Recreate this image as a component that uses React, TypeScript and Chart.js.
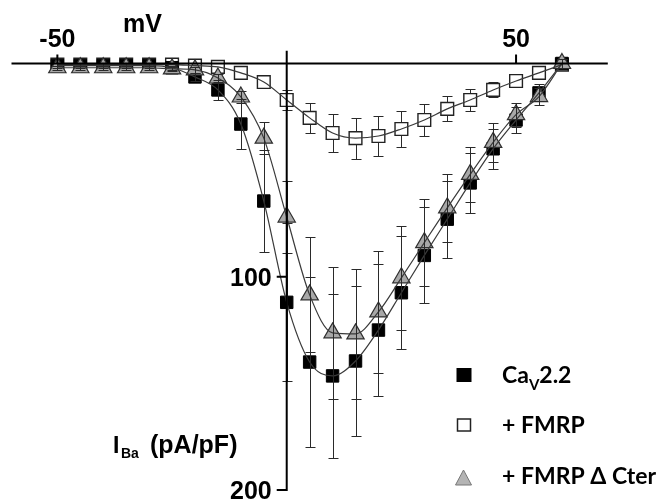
import React, { useEffect, useRef } from 'react';
import { Chart, registerables } from 'chart.js';

Chart.register(...registerables);

// Test potentials (mV)
const voltages = [-50, -45, -40, -35, -30, -25, -20, -15, -10, -5, 0, 5, 10, 15, 20, 25, 30, 35, 40, 45, 50, 55, 60];
// Current density (pA/pF), plotted downward
const cav22 = [1, 1, 1, 1, 1, 2, 6.3, 12.4, 28.4, 64.5, 112, 140, 146.5, 139.5, 125, 107.5, 90, 73, 56, 40, 26.5, 13.8, 0];
const cav22Err = [1, 1, 1, 1, 1, 1, 2, 4.7, 11.7, 24, 37, 40, 38.5, 35, 31, 26.5, 22.5, 18, 14, 9.5, 6, 4, 2];
const fmrp = [0.5, 0.5, 0.5, 0.5, 0.5, 0.5, 1, 1.6, 4.4, 8.7, 17.1, 25.5, 32.6, 35, 34, 30.7, 26.5, 21.3, 17.1, 12.4, 8.2, 4.4, 0.5];
const fmrpErr = [1, 1, 1, 1, 1, 1, 1, 1.5, 2, 3, 4.7, 7, 9, 9.6, 9.4, 8.4, 7.3, 5.9, 5, 3.5, 3, 3, 2];
const dCter = [2, 2, 2, 2, 2, 2.5, 3, 6.8, 15.7, 35, 72, 108.5, 126.3, 126.8, 116.5, 100.5, 84, 67.7, 52, 37, 24, 15.5, 0];
const dCterErr = [1, 1, 1, 1, 1, 1, 1.5, 2, 3, 7.5, 17, 27, 31, 30.5, 28.5, 24.5, 20.5, 16, 13, 9, 5.6, 4, 2];

const xTicks = [-50, 50];
const yTicks = [100, 200];
const xRange = [-60, 70];
const yRange = [-6, 200];

const TICK_FONT = 'bold 25px "Liberation Sans", Arial, sans-serif';
const LEGEND_FONT = '"Lato", "Open Sans", sans-serif';

const pts = (vals: number[]) => voltages.map((v, i) => ({ x: v, y: vals[i] }));

function drawRich(ctx: CanvasRenderingContext2D, parts: { t: string; font: string; dy: number }[], x: number, y: number) {
  let cx = x;
  for (const p of parts) {
    ctx.font = p.font;
    ctx.fillText(p.t, cx, y + p.dy);
    cx += ctx.measureText(p.t).width;
  }
}

const errorBarPlugin = {
  id: 'errorBars',
  _draw(chart: any, layer: string) {
    const { ctx, scales } = chart;
    const xs = scales.x, ys = scales.y;
    ctx.save();
    chart.data.datasets.forEach((ds: any) => {
      if (!ds.errors || ds.errLayer !== layer) return;
      ctx.strokeStyle = '#2a2a2a';
      ctx.lineWidth = 1;
      ds.data.forEach((p: any, i: number) => {
        const e = ds.errors[i];
        const px = Math.round(xs.getPixelForValue(p.x)) + 0.5;
        const t = Math.round(ys.getPixelForValue(p.y - e)) + 0.5;
        const b = Math.round(ys.getPixelForValue(p.y + e)) + 0.5;
        ctx.beginPath();
        ctx.moveTo(px, t); ctx.lineTo(px, b);
        ctx.moveTo(px - 5, t); ctx.lineTo(px + 5, t);
        ctx.moveTo(px - 5, b); ctx.lineTo(px + 5, b);
        ctx.stroke();
      });
    });
    ctx.restore();
  },
  beforeDatasetsDraw(chart: any) { (errorBarPlugin as any)._draw(chart, 'before'); },
  afterDatasetsDraw(chart: any) { (errorBarPlugin as any)._draw(chart, 'after'); },
};

const axesPlugin = {
  id: 'customAxes',
  afterDraw(chart: any) {
    const { ctx, scales } = chart;
    const xs = scales.x, ys = scales.y;
    const x0 = xs.getPixelForValue(0);
    const y0 = ys.getPixelForValue(0);
    ctx.save();
    ctx.strokeStyle = '#000';
    ctx.fillStyle = '#000';
    ctx.lineWidth = 2;
    ctx.beginPath();
    ctx.moveTo(xs.getPixelForValue(xRange[0]), y0);
    ctx.lineTo(xs.getPixelForValue(xRange[1]), y0);
    ctx.moveTo(x0, ys.getPixelForValue(yRange[0]));
    ctx.lineTo(x0, ys.getPixelForValue(yRange[1]) + 1);
    xTicks.forEach((t) => {
      const px = xs.getPixelForValue(t);
      ctx.moveTo(px, y0);
      ctx.lineTo(px, y0 - 9);
    });
    yTicks.forEach((t) => {
      const py = ys.getPixelForValue(t);
      ctx.moveTo(x0 + 1, py);
      ctx.lineTo(x0 - 10, py);
    });
    ctx.stroke();

    ctx.font = TICK_FONT;
    ctx.textBaseline = 'alphabetic';
    ctx.textAlign = 'center';
    xTicks.forEach((t) => {
      ctx.fillText(String(t), xs.getPixelForValue(t), y0 - 16);
    });
    ctx.textAlign = 'right';
    yTicks.forEach((t) => {
      ctx.fillText(String(t), x0 - 15, ys.getPixelForValue(t) + 9);
    });

    // axis titles
    ctx.textAlign = 'center';
    ctx.fillText('mV', 142.5, 32);
    ctx.textAlign = 'left';
    drawRich(ctx, [
      { t: 'I', font: 'bold 23px "Liberation Sans", Arial, sans-serif', dy: 0 },
    ], 113, 453);
    drawRich(ctx, [
      { t: 'Ba', font: 'bold 14px "Liberation Sans", Arial, sans-serif', dy: 0 },
    ], 121, 458);
    drawRich(ctx, [
      { t: '(pA/pF)', font: 'bold 25px "Liberation Sans", Arial, sans-serif', dy: 0 },
    ], 150, 453);

    // legend
    const lx = 464;
    ctx.fillStyle = '#000';
    ctx.fillRect(lx - 7.5, 368, 15, 14);
    ctx.fillStyle = '#fff';
    ctx.strokeStyle = '#222';
    ctx.lineWidth = 1.5;
    ctx.fillRect(lx - 6.5, 419, 13, 12);
    ctx.strokeRect(lx - 6.5, 419, 13, 12);
    ctx.beginPath();
    ctx.moveTo(lx - 0.5, 470);
    ctx.lineTo(lx + 7.5, 485);
    ctx.lineTo(lx - 8.5, 485);
    ctx.closePath();
    ctx.fillStyle = '#b4b4b4';
    ctx.fill();
    ctx.strokeStyle = '#777';
    ctx.lineWidth = 1;
    ctx.stroke();

    ctx.fillStyle = '#000';
    const big = 'bold 23px ' + LEGEND_FONT;
    const small = 'bold 15px ' + LEGEND_FONT;
    drawRich(ctx, [
      { t: 'Ca', font: big, dy: 0 },
      { t: 'V', font: small, dy: 7 },
      { t: '2.2', font: big, dy: 0 },
    ], 502, 383);
    drawRich(ctx, [{ t: '+ FMRP', font: big, dy: 0 }], 502, 433);
    drawRich(ctx, [{ t: '+ FMRP \u0394 Cter', font: big, dy: 0 }], 502, 484);
    ctx.restore();
  },
};

export default function App() {
  const ref = useRef<HTMLCanvasElement>(null);
  useEffect(() => {
    if (!ref.current) return;
    const lineCommon = {
      showLine: true,
      pointRadius: 0,
      borderColor: '#3a3a3a',
      borderWidth: 1.2,
      cubicInterpolationMode: 'monotone',
      fill: false,
      clip: false,
    };
    const chart = new Chart(ref.current, {
      type: 'scatter',
      data: {
        datasets: [
          {
            label: '+ FMRP',
            data: pts(fmrp),
            errors: fmrpErr,
            errLayer: 'before',
            showLine: false,
            pointStyle: 'rect',
            pointRadius: 9,
            backgroundColor: '#fff',
            borderColor: '#222',
            borderWidth: 1.4,
            order: 6,
            clip: false,
          } as any,
          {
            label: 'CaV2.2',
            data: pts(cav22),
            errors: cav22Err,
            errLayer: 'after',
            showLine: false,
            pointStyle: 'rect',
            pointRadius: 8.8,
            backgroundColor: '#000',
            borderColor: '#000',
            borderWidth: 1,
            order: 5,
            clip: false,
          } as any,
          {
            label: '+ FMRP Δ Cter',
            data: pts(dCter),
            errors: dCterErr,
            errLayer: 'after',
            showLine: false,
            pointStyle: 'triangle',
            pointRadius: 10,
            backgroundColor: '#a8a8a8',
            borderColor: '#2f2f2f',
            borderWidth: 1.2,
            order: 4,
            clip: false,
          } as any,
          { ...lineCommon, label: 'fit FMRP', data: pts(fmrp), order: 3 } as any,
          { ...lineCommon, label: 'fit CaV2.2', data: pts(cav22), order: 2 } as any,
          { ...lineCommon, label: 'fit dCter', data: pts(dCter), order: 1 } as any,
        ],
      },
      options: {
        animation: false,
        responsive: false,
        events: [],
        layout: { padding: { left: 11.5, right: 56.2, top: 50.7, bottom: 12 } },
        scales: {
          x: { type: 'linear', display: false, min: xRange[0], max: xRange[1] },
          y: { type: 'linear', display: false, min: yRange[0], max: yRange[1], reverse: true },
        },
        plugins: { legend: { display: false }, tooltip: { enabled: false } },
      },
      plugins: [errorBarPlugin as any, axesPlugin as any],
    });
    return () => chart.destroy();
  }, []);
  return (
    <div style={{ position: 'absolute', left: 0, top: 0, width: 664, height: 502, background: '#fff' }}>
      <canvas ref={ref} width={664} height={502} style={{ display: 'block' }} />
    </div>
  );
}
